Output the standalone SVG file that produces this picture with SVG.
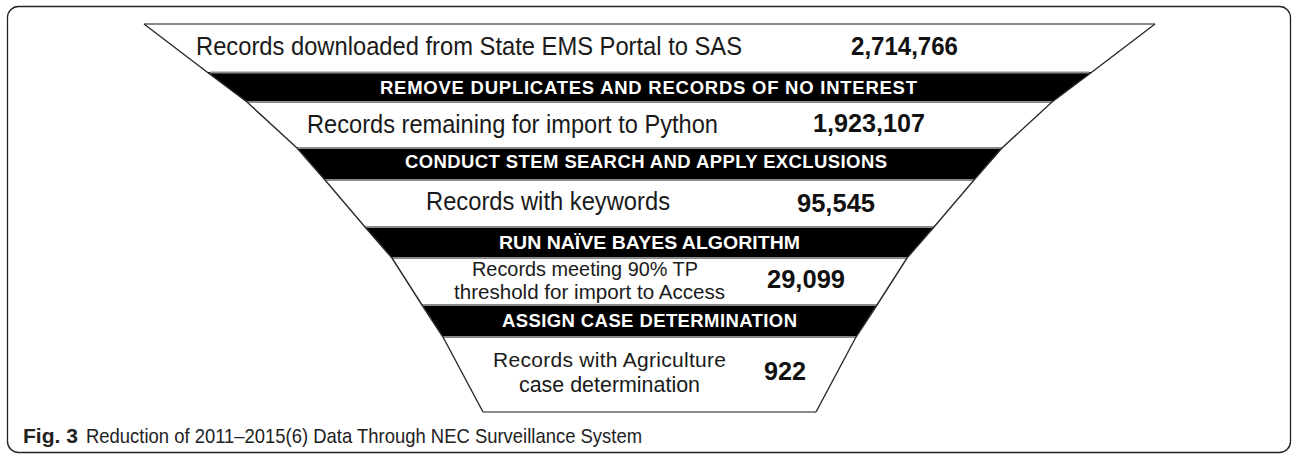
<svg xmlns="http://www.w3.org/2000/svg" width="1292" height="454" viewBox="0 0 1292 454">
<style>
.frame{fill:#fff;stroke:#222;stroke-width:1.3}
.seg{fill:#fff;stroke:none}
.side{stroke:#2a2a2a;stroke-width:1.4;fill:none}
.hl{stroke:#8a8a8a;stroke-width:2;fill:none}
.band{fill:#000;stroke:none}
.t{font-family:"Liberation Sans",Arial,sans-serif;fill:#1a1a1a}
.n{font-family:"Liberation Sans",Arial,sans-serif;font-weight:bold;fill:#111;font-size:26px}
.b{font-family:"Liberation Sans",Arial,sans-serif;font-weight:bold;fill:#fff;font-size:18.5px}
.cap{font-family:"Liberation Sans",Arial,sans-serif;fill:#222}
</style>
<rect class="frame" x="7.5" y="6.5" width="1283" height="446" rx="11"/>

<g id="stage1">
<polygon class="seg" points="144,24 1155,24 1092,72 207,72"/>
<text class="t" x="196" y="55" font-size="25" textLength="546" lengthAdjust="spacingAndGlyphs">Records downloaded from State EMS Portal to SAS</text>
<text class="n" x="851" y="55" textLength="107" lengthAdjust="spacingAndGlyphs">2,714,766</text>
</g>
<g id="step1">
<polygon class="band" points="207,72 1092,72 1052,102 247,102"/>
<text class="b" x="380" y="94" textLength="537" lengthAdjust="spacing">REMOVE DUPLICATES AND RECORDS OF NO INTEREST</text>
</g>
<g id="stage2">
<polygon class="seg" points="247,102 1052,102 1002,148 297,148"/>
<text class="t" x="307" y="133" font-size="25" textLength="411" lengthAdjust="spacingAndGlyphs">Records remaining for import to Python</text>
<text class="n" x="813" y="132" textLength="112" lengthAdjust="spacingAndGlyphs">1,923,107</text>
</g>
<g id="step2">
<polygon class="band" points="297,148 1002,148 974,180 325,180"/>
<text class="b" x="405" y="168" textLength="482" lengthAdjust="spacing">CONDUCT STEM SEARCH AND APPLY EXCLUSIONS</text>
</g>
<g id="stage3">
<polygon class="seg" points="325,180 974,180 934,227 365,227"/>
<text class="t" x="426" y="210" font-size="25" textLength="244" lengthAdjust="spacingAndGlyphs">Records with keywords</text>
<text class="n" x="797" y="212" textLength="78" lengthAdjust="spacingAndGlyphs">95,545</text>
</g>
<g id="step3">
<polygon class="band" points="365,227 934,227 907,258 392,258"/>
<text class="b" x="499" y="249" textLength="301" lengthAdjust="spacingAndGlyphs">RUN NAÏVE BAYES ALGORITHM</text>
</g>
<g id="stage4">
<polygon class="seg" points="392,258 907,258 877,305 422,305"/>
<text class="t" x="472" y="276" font-size="20.5" textLength="226" lengthAdjust="spacingAndGlyphs">Records meeting 90% TP</text>
<text class="t" x="454" y="298.5" font-size="20.5" textLength="271" lengthAdjust="spacingAndGlyphs">threshold for import to Access</text>
<text class="n" x="767" y="288" textLength="78" lengthAdjust="spacingAndGlyphs">29,099</text>
</g>
<g id="step4">
<polygon class="band" points="422,305 877,305 856,337 443,337"/>
<text class="b" x="502" y="327" textLength="295" lengthAdjust="spacing">ASSIGN CASE DETERMINATION</text>
</g>
<g id="stage5">
<polygon class="seg" points="443,337 856,337 816,412 483,412"/>
<text class="t" x="493" y="367" font-size="21" textLength="233" lengthAdjust="spacing">Records with Agriculture</text>
<text class="t" x="519" y="392" font-size="21.5" textLength="181" lengthAdjust="spacingAndGlyphs">case determination</text>
<text class="n" x="764" y="380" textLength="42" lengthAdjust="spacingAndGlyphs">922</text>
</g>

<g id="connectors">
<line class="hl" x1="144" y1="24" x2="1155" y2="24"/>
<line class="hl" x1="210" y1="72.5" x2="1089" y2="72.5" stroke-width="1.2"/>
<line class="hl" x1="247" y1="102" x2="1052" y2="102" stroke-width="1.5"/>
<line class="hl" x1="297" y1="148" x2="1002" y2="148" stroke-width="1.5"/>
<line class="hl" x1="325" y1="180" x2="974" y2="180" stroke-width="1.5"/>
<line class="hl" x1="365" y1="227" x2="934" y2="227" stroke-width="1.5"/>
<line class="hl" x1="392" y1="258" x2="907" y2="258" stroke-width="1.5"/>
<line class="hl" x1="422" y1="305" x2="877" y2="305" stroke-width="1.5"/>
<line class="hl" x1="443" y1="337" x2="856" y2="337" stroke-width="1.5"/>
<line class="hl" x1="483" y1="412" x2="816" y2="412" stroke="#777" stroke-width="3"/>
<polyline class="side" points="144,24 207,72 247,102 297,148 325,180 365,227 392,258 422,305 443,337 483,412"/>
<polyline class="side" points="1155,24 1092,72 1052,102 1002,148 974,180 934,227 907,258 877,305 856,337 816,412"/>
</g>

<g id="caption">
<text class="cap" x="23" y="443" font-size="21" font-weight="bold" fill="#111" textLength="55" lengthAdjust="spacingAndGlyphs">Fig. 3</text>
<text class="cap" x="86" y="443" font-size="21" textLength="556" lengthAdjust="spacingAndGlyphs">Reduction of 2011–2015(6) Data Through NEC Surveillance System</text>
</g>
</svg>
